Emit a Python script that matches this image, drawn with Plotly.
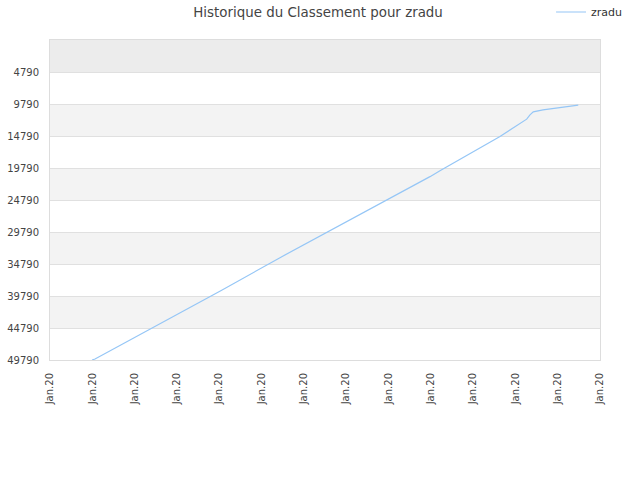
import plotly.graph_objects as go

title = "Historique du Classement pour zradu"
series_name = "zradu"

# x positions in tick units (tick index), rank values
x_vals = [0.993, 1.064, 4.058, 5.436, 8.981, 9.217, 10.636, 11.267, 11.345, 11.423, 11.652, 12.054, 12.486]
rank_vals = [49790, 49634, 38891, 33800, 21140, 20205, 14864, 12155, 11486, 11018, 10707, 10396, 9975]

x_ticks = list(range(14))
x_tick_labels = ["Jan.20"] * 14
y_ticks = [4790, 9790, 14790, 19790, 24790, 29790, 34790, 39790, 44790, 49790]
y_top = -210

fig = go.Figure()
fig.add_trace(go.Scatter(
    x=x_vals, y=rank_vals, mode="lines", name=series_name,
    line=dict(color="#95c6f6", width=1.2),
))

shapes = []
bounds = [y_top] + y_ticks
for i in range(len(bounds) - 1):
    lo, hi = bounds[i], bounds[i + 1]
    idx_from_bottom = len(bounds) - 2 - i
    if i == 0:
        color = "#ececec"
    elif idx_from_bottom % 2 == 1:
        color = "#f3f3f3"
    else:
        color = "#ffffff"
    shapes.append(dict(type="rect", xref="paper", yref="y", x0=0, x1=1, y0=lo, y1=hi,
                       fillcolor=color, line=dict(width=0), layer="below"))

fig.update_layout(
    width=640, height=480,
    margin=dict(l=50, r=40, t=40, b=120, autoexpand=False),
    paper_bgcolor="white", plot_bgcolor="white",
    title=dict(text=title, x=0.497, xanchor="center", y=0.975, yanchor="middle",
               font=dict(family="DejaVu Sans", size=13.4, color="#444")),
    font=dict(family="DejaVu Sans", size=10, color="#444"),
    showlegend=True,
    legend=dict(x=0.911, y=1.0875, xanchor="left", yanchor="middle",
                font=dict(size=11, color="#333"), bgcolor="rgba(0,0,0,0)",
                itemwidth=30),
    shapes=shapes,
    xaxis=dict(range=[0, 13], tickmode="array", tickvals=x_ticks, ticktext=x_tick_labels,
               tickangle=-90, showgrid=False, zeroline=False,
               showline=True, linecolor="#dddddd", mirror=True,
               ticks="outside", ticklen=8, tickcolor="rgba(0,0,0,0)",
               tickfont=dict(size=10, color="#444")),
    yaxis=dict(range=[49790, y_top], tickmode="array", tickvals=y_ticks,
               ticktext=[str(v) for v in y_ticks],
               showgrid=True, gridcolor="#e0e0e0", zeroline=False,
               showline=True, linecolor="#dddddd", mirror=True,
               ticks="outside", ticklen=8, tickcolor="rgba(0,0,0,0)",
               tickfont=dict(size=10, color="#444")),
)

fig.write_html("out.html", config={"displayModeBar": False},
               post_script="document.body.style.margin='0';")
